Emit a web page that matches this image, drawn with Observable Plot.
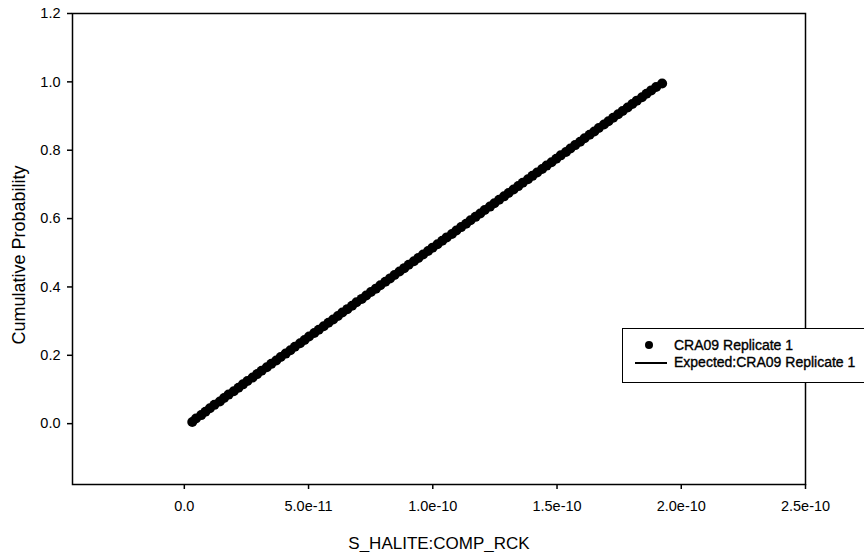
<!DOCTYPE html>
<html>
<head>
<meta charset="utf-8">
<script src="https://cdn.jsdelivr.net/npm/d3@7"></script>
<script src="https://cdn.jsdelivr.net/npm/@observablehq/plot@0.6"></script>
<style>
  html, body { margin: 0; padding: 0; background: #fff; overflow: hidden; width: 864px; height: 552px; }
  #wrap { position: relative; width: 864px; height: 552px; }
  #legend { position: absolute; left: 622px; top: 328px; width: 260px; height: 55px; border: 1.5px solid #000; background: #fff;
    font-family: "Liberation Sans", Arial, sans-serif; font-size: 14px; font-weight: normal; color: #000; box-sizing: border-box;
    -webkit-text-stroke: 0.35px #000; white-space: nowrap; }
  .row { position: absolute; left: 0; height: 16px; display: flex; align-items: center; }
  .sym { width: 51px; position: relative; height: 16px; }
  .dot { position: absolute; left: 22px; top: 4px; width: 8px; height: 8px; border-radius: 50%; background: #000; }
  .ln { position: absolute; left: 12px; top: 8px; width: 32px; height: 1.5px; background: #000; }
</style>
</head>
<body>
<div id="wrap">
  <div id="chart"></div>
  <div id="legend"></div>
</div>
<script>
// Data (x in units of the variable, y = cumulative probability)
const seriesName = "CRA09 Replicate 1";
const expectedName = "Expected:CRA09 Replicate 1";
const xLabel = "S_HALITE:COMP_RCK";
const yLabel = "Cumulative Probability";

const sampleX = [
  0.032, 0.047, 0.068, 0.085, 0.103, 0.121, 0.143, 0.160, 0.178, 0.199,
  0.218, 0.236, 0.254, 0.275, 0.293, 0.311, 0.332, 0.350, 0.370, 0.388,
  0.408, 0.427, 0.445, 0.466, 0.484, 0.502, 0.523, 0.541, 0.561, 0.580,
  0.599, 0.618, 0.636, 0.656, 0.675, 0.693, 0.714, 0.732, 0.751, 0.771,
  0.789, 0.809, 0.828, 0.846, 0.866, 0.885, 0.903, 0.924, 0.942, 0.961,
  0.981, 0.999, 1.019, 1.038, 1.056, 1.077, 1.095, 1.114, 1.134, 1.152,
  1.172, 1.191, 1.209, 1.230, 1.248, 1.267, 1.287, 1.305, 1.325, 1.344,
  1.362, 1.383, 1.401, 1.420, 1.440, 1.458, 1.478, 1.497, 1.515, 1.536,
  1.554, 1.573, 1.593, 1.611, 1.631, 1.650, 1.668, 1.689, 1.707, 1.726,
  1.746, 1.764, 1.784, 1.803, 1.821, 1.842, 1.860, 1.879, 1.899, 1.923
]; // ×1e-10

const sampleP = [
  0.005, 0.015, 0.025, 0.035, 0.045, 0.055, 0.065, 0.075, 0.085, 0.095,
  0.105, 0.115, 0.125, 0.135, 0.145, 0.155, 0.165, 0.175, 0.185, 0.195,
  0.205, 0.215, 0.225, 0.235, 0.245, 0.255, 0.265, 0.275, 0.285, 0.295,
  0.305, 0.315, 0.325, 0.335, 0.345, 0.355, 0.365, 0.375, 0.385, 0.395,
  0.405, 0.415, 0.425, 0.435, 0.445, 0.455, 0.465, 0.475, 0.485, 0.495,
  0.505, 0.515, 0.525, 0.535, 0.545, 0.555, 0.565, 0.575, 0.585, 0.595,
  0.605, 0.615, 0.625, 0.635, 0.645, 0.655, 0.665, 0.675, 0.685, 0.695,
  0.705, 0.715, 0.725, 0.735, 0.745, 0.755, 0.765, 0.775, 0.785, 0.795,
  0.805, 0.815, 0.825, 0.835, 0.845, 0.855, 0.865, 0.875, 0.885, 0.895,
  0.905, 0.915, 0.925, 0.935, 0.945, 0.955, 0.965, 0.975, 0.985, 0.995
];

const expectedX = [0.030, 1.925]; // ×1e-10
const expectedP = [0.0, 1.0];

const xTicks = [0, 5e-11, 1e-10, 1.5e-10, 2e-10, 2.5e-10];
const yTicks = [0.0, 0.2, 0.4, 0.6, 0.8, 1.0, 1.2];
const xDomain = [-4.5e-11, 2.5e-10];
const yDomain = [-0.178, 1.2];

const points = sampleX.map((x, i) => ({x: x * 1e-10, y: sampleP[i]}));
const expected = expectedX.map((x, i) => ({x: x * 1e-10, y: expectedP[i]}));

const fmtX = d => d === 0 ? "0.0" : d.toExponential(1);

const chart = Plot.plot({
  width: 864,
  height: 552,
  marginLeft: 72,
  marginRight: 59,
  marginTop: 13,
  marginBottom: 68,
  style: {fontFamily: "'Liberation Sans', Arial, sans-serif", fontSize: "13px", color: "#000", background: "#fff"},
  x: {domain: xDomain},
  y: {domain: yDomain},
  marks: [
    Plot.frame({stroke: "#000", strokeWidth: 1.5}),
    Plot.axisX({ticks: xTicks, tickFormat: fmtX, tickSize: 5, tickPadding: 11, label: null, fontSize: 14.5, strokeWidth: 1.5}),
    Plot.axisY({ticks: yTicks, tickFormat: d => d.toFixed(1), tickSize: 5, tickPadding: 7, label: null, fontSize: 14.5, strokeWidth: 1.5}),
    Plot.text([xLabel], {frameAnchor: "bottom", dy: 59, text: d => d, fontSize: 17, lineAnchor: "middle"}),
    Plot.text([yLabel], {frameAnchor: "left", textAnchor: "middle", dx: -53, dy: 6, rotate: -90, text: d => d, fontSize: 18}),
    Plot.line(expected, {x: "x", y: "y", stroke: "#000", strokeWidth: 1.5}),
    Plot.dot(points, {x: "x", y: "y", r: 5, fill: "#000", stroke: "none"})
  ]
});
document.getElementById("chart").appendChild(chart);

const legend = document.getElementById("legend");
legend.innerHTML =
  `<div class="row" style="top:8px"><div class="sym"><div class="dot"></div></div><span>${seriesName}</span></div>` +
  `<div class="row" style="top:25px"><div class="sym"><div class="ln"></div></div><span>${expectedName}</span></div>`;
</script>
</body>
</html>
